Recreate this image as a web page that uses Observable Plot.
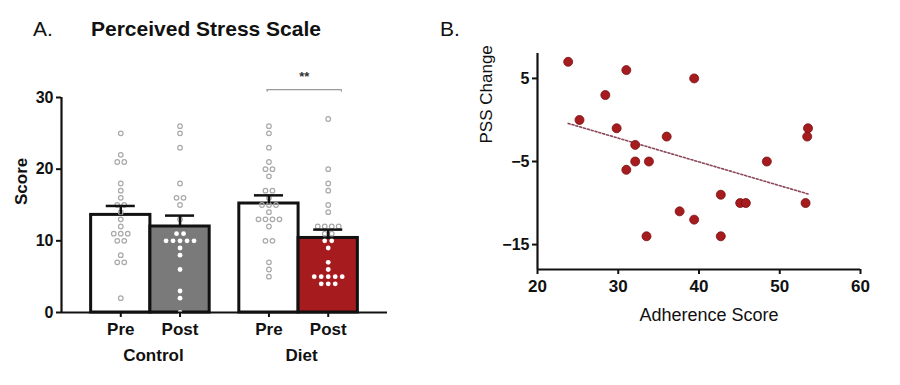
<!DOCTYPE html>
<html><head><meta charset="utf-8">
<script src="https://cdn.jsdelivr.net/npm/d3@7"></script>
<script src="https://cdn.jsdelivr.net/npm/@observablehq/plot@0.6"></script>
<style>
body{margin:0;background:#fff;}
#wrap{position:relative;width:900px;height:385px;overflow:hidden;font-family:"Liberation Sans",Arial,sans-serif;background:#fff;}
.t{position:absolute;font-size:21px;line-height:21px;color:#111;white-space:nowrap;}
#pa{position:absolute;top:0;left:0;width:440px;height:385px;}
#pb{position:absolute;top:0;left:450px;width:450px;height:385px;}
</style></head><body>
<div id="wrap">
<div id="pa"></div><div id="pb"></div>
<div class="t" style="left:33px;top:18px">A.</div>
<div class="t" style="left:91px;top:18px;font-weight:bold">Perceived Stress Scale</div>
<div class="t" style="left:440px;top:18px">B.</div>
</div>
<script>
// ---- Panel A data ----
const groups = ["Control", "Diet"];
const times = ["Pre", "Post"];
const controlPre  = [25,22,21,21,18,17,16,15,15,14,13,12,11,11,11,10,10,8,7,7,2];
const controlPost = [26,25,23,18,16,16,15,13,11,11,10,10,10,10,10,9,8,6,3,2,0];
const dietPre     = [26,25,23,21,20,20,19,17,17,16,15,15,15,14,13,13,13,13,12,10,10,7,6,5];
const dietPost    = [27,20,18,17,15,14,12,12,12,12,11,11,10,10,9,7,6,5,5,5,5,5,4,4,4];
const yTicksA = [0, 10, 20, 30];
const sigLabel = "**";
const sigLevel = 31.1;

// ---- Panel B data ----
const adherence = [23.8,25.2,28.4,29.8,31.0,31.0,32.1,32.1,33.8,33.5,36.0,37.6,39.4,39.4,42.7,42.7,45.1,45.8,48.4,53.2,53.5,53.4];
const pssChange = [7,0,3,-1,6,-6,-3,-5,-5,-14,-2,-11,5,-12,-9,-14,-10,-10,-5,-10,-1,-2];
const xTicksB = [20, 30, 40, 50, 60];
const yTicksB = [5, -5, -15];

// ---- styles ----
const barFill = {"Control|Pre": "#ffffff", "Control|Post": "#7a7a7a", "Diet|Pre": "#ffffff", "Diet|Post": "#a51b1e"};
const FONT = "Liberation Sans, Arial, sans-serif";
const INK = "#111";

// ---- build panel A tables ----
const series = [[controlPre, controlPost], [dietPre, dietPost]];
const slot = (gi, ti) => gi * 2.5 + ti + 1; // layout in bar-width units
const columns = [];
groups.forEach((g, gi) => times.forEach((t, ti) => {
  const values = series[gi][ti];
  const mean = d3.mean(values);
  const sem = d3.deviation(values) / Math.sqrt(values.length);
  columns.push({group: g, time: t, pos: slot(gi, ti), values, mean, sem, fill: barFill[g + "|" + t]});
}));
const dots = [];
const step = 0.118;
columns.forEach(c => {
  const counts = d3.rollup(c.values, v => v.length, d => d);
  const seen = new Map();
  c.values.forEach(v => {
    const k = counts.get(v); const i = seen.get(v) || 0; seen.set(v, i + 1);
    const solid = c.fill !== "#ffffff" && v < c.mean;
    dots.push({value: v, x: c.pos + (i - (k - 1) / 2) * step, solid});
  });
});
const sig = {x1: slot(1, 0) - 0.03, x2: slot(1, 1) + 0.22};

const A = Plot.plot({
  width: 440, height: 385, marginLeft: 61, marginRight: 53, marginTop: 97, marginBottom: 73,
  x: {domain: [0, 5.5]},
  y: {domain: [0, 30]},
  color: {type: "identity"},
  style: {fontFamily: FONT, fontWeight: "bold", fontSize: "16px", color: INK, background: "white"},
  marks: [
    Plot.rectY(columns, {x1: d => d.pos - 0.5, x2: d => d.pos + 0.5, y1: 0, y2: "mean", fill: "fill", stroke: INK, strokeWidth: 3}),
    Plot.dot(dots.filter(d => !d.solid), {x: "x", y: "value", r: 2.3, stroke: "#a9a9a9", strokeWidth: 1.2, fill: "none"}),
    Plot.dot(dots.filter(d => d.solid), {x: "x", y: "value", r: 2.4, fill: "white"}),
    Plot.ruleX(columns, {x: "pos", y1: "mean", y2: d => d.mean + d.sem, stroke: INK, strokeWidth: 2.5}),
    Plot.ruleY(columns, {y: d => d.mean + d.sem, x1: d => d.pos - 0.245, x2: d => d.pos + 0.245, stroke: INK, strokeWidth: 2.5}),
    Plot.ruleY([0], {stroke: INK, strokeWidth: 2.2}),
    Plot.ruleX([0], {y1: 0, y2: 30, stroke: INK, strokeWidth: 2.2}),
    Plot.axisY({ticks: yTicksA, tickSize: 5, tickPadding: 3, fontSize: 16, label: null, strokeWidth: 2}),
    Plot.axisX({ticks: columns.map(d => d.pos), tickFormat: p => (columns.find(c => c.pos === p) || {}).time, tickSize: 5, tickPadding: 5, fontSize: 17, label: null, strokeWidth: 2}),
    Plot.text(groups, {x: (g, i) => (slot(i, 0) + slot(i, 1)) / 2, frameAnchor: "bottom", dy: 48, dx: 3, text: d => d, fontSize: 17}),
    Plot.text(["Score"], {frameAnchor: "left", dx: -40, rotate: -90, text: d => d, fontSize: 17}),
    Plot.ruleY([sig], {x1: "x1", x2: "x2", y: sigLevel, stroke: "#999", strokeWidth: 1.2}),
    Plot.ruleX([sig.x1, sig.x2], {y1: sigLevel, y2: sigLevel - 0.35, stroke: "#999", strokeWidth: 1.2}),
    Plot.text([sigLabel], {x: (sig.x1 + sig.x2) / 2, y: sigLevel, dy: -13, text: d => d, fontSize: 13, fill: "#333"})
  ]
});
document.getElementById("pa").appendChild(A);

// ---- panel B ----
const pts = adherence.map((x, i) => ({x, y: pssChange[i]}));
const B = Plot.plot({
  width: 450, height: 385, marginLeft: 87, marginRight: 40, marginTop: 53, marginBottom: 116,
  x: {domain: [20, 60]},
  y: {domain: [-18, 8]},
  style: {fontFamily: FONT, fontWeight: "bold", fontSize: "16px", color: INK, background: "white"},
  marks: [
    Plot.ruleX([20], {stroke: INK, strokeWidth: 2.2}),
    Plot.ruleY([-18], {stroke: INK, strokeWidth: 2.2}),
    Plot.axisX({ticks: xTicksB, tickSize: 5, tickPadding: 5, fontSize: 17, label: null, strokeWidth: 2}),
    Plot.axisY({ticks: yTicksB, tickSize: 5, tickPadding: 3, fontSize: 16, label: null, strokeWidth: 2}),
    Plot.linearRegressionY(pts, {x: "x", y: "y", ci: 0, stroke: "#8b4858", strokeWidth: 1.6, strokeDasharray: "2,2"}),
    Plot.dot(pts, {x: "x", y: "y", r: 4.5, fill: "#a61c1e", stroke: "#7a0f12", strokeWidth: 0.8}),
    Plot.text(["Adherence Score"], {frameAnchor: "bottom", dy: 51, dx: 10, fontSize: 18, fontWeight: "normal", text: d => d}),
    Plot.text(["PSS Change"], {frameAnchor: "left", dx: -51, dy: -18, rotate: -90, fontSize: 17, fontWeight: "normal", text: d => d})
  ]
});
document.getElementById("pb").appendChild(B);
</script>
</body></html>
